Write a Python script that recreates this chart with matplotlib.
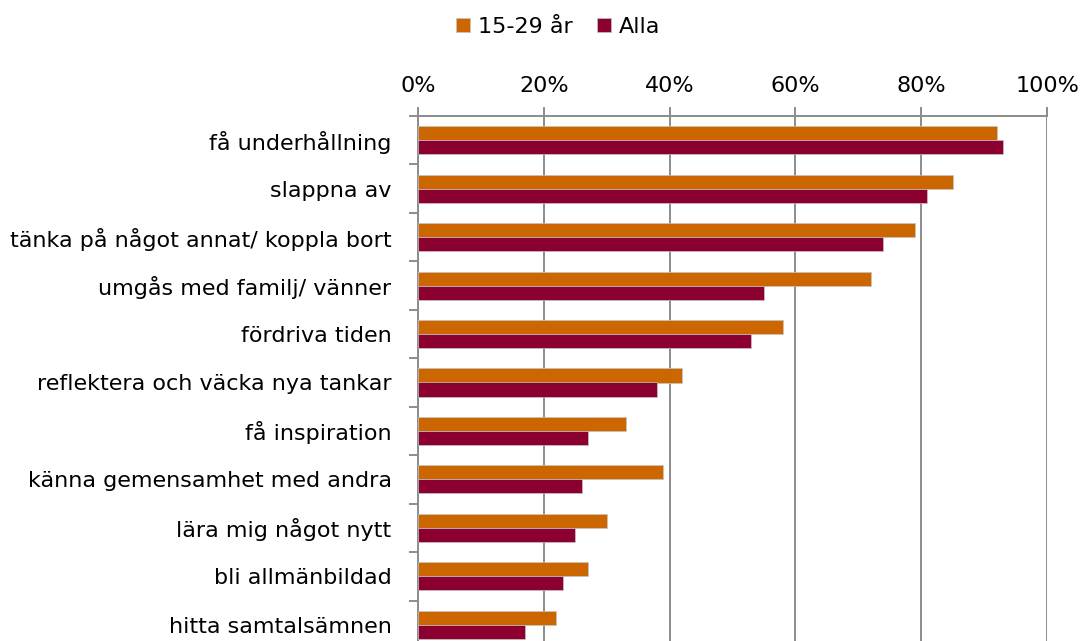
import numpy as np
import matplotlib
matplotlib.use("Agg")
import matplotlib.pyplot as plt
from matplotlib.patches import Patch
from matplotlib.ticker import MultipleLocator, PercentFormatter

# data (percent)
categories = ["få underhållning", "slappna av", "tänka på något annat/ koppla bort",
              "umgås med familj/ vänner", "fördriva tiden",
              "reflektera och väcka nya tankar", "få inspiration",
              "känna gemensamhet med andra", "lära mig något nytt",
              "bli allmänbildad", "hitta samtalsämnen"]
young = [92, 85, 79, 72, 58, 42, 33, 39, 30, 27, 22]
alla = [93, 81, 74, 55, 53, 38, 27, 26, 25, 23, 17]
series_names = ["15-29 år", "Alla"]

c_orange = "#CC6600"
c_red = "#8B0030"
grid_c = "#8C8C8C"
edge_c = "#c4c4c4"

plt.rcParams['font.family'] = ['DejaVu Sans']
fs = 16

fig = plt.figure(figsize=(10.86, 6.41), dpi=100)
ax = fig.add_axes([418/1086, -8/641, 629/1086, 533/641])

y = np.arange(len(categories))
h = 0.29
ax.barh(y - h/2, young, height=h, color=c_orange, edgecolor=edge_c, linewidth=0.5, zorder=3)
ax.barh(y + h/2, alla, height=h, color=c_red, edgecolor=edge_c, linewidth=0.5, zorder=3)

ax.set_xlim(0, 100)
ax.set_ylim(len(categories) - 0.5, -0.5)

ax.xaxis.set_major_locator(MultipleLocator(20))
ax.xaxis.set_major_formatter(PercentFormatter(decimals=0))
ax.xaxis.tick_top()
ax.tick_params(axis='x', length=6.5, width=1.4, color=grid_c, labelsize=fs, pad=8)
ax.grid(axis='x', color=grid_c, linewidth=1.4, zorder=0)

ax.set_yticks(y)
ax.set_yticklabels(categories)
ax.set_yticks(np.arange(len(categories) + 1) - 0.5, minor=True)
ax.tick_params(axis='y', which='major', length=0, labelsize=fs, pad=19)
ax.tick_params(axis='y', which='minor', length=6.5, width=1.4, color=grid_c)

for s in ["right", "bottom"]:
    ax.spines[s].set_visible(False)
for s in ["top", "left"]:
    ax.spines[s].set_color(grid_c)
    ax.spines[s].set_linewidth(1.4)

handles = [Patch(facecolor=c_orange, edgecolor=edge_c, linewidth=0.5),
           Patch(facecolor=c_red, edgecolor=edge_c, linewidth=0.5)]
fig.legend(handles, series_names, loc="center", bbox_to_anchor=(558/1086, 1 - 27/641),
           ncol=2, frameon=False, fontsize=fs, handlelength=0.62, handleheight=0.62,
           handletextpad=0.35, columnspacing=1.1)

fig.savefig("out.png", dpi=100)
